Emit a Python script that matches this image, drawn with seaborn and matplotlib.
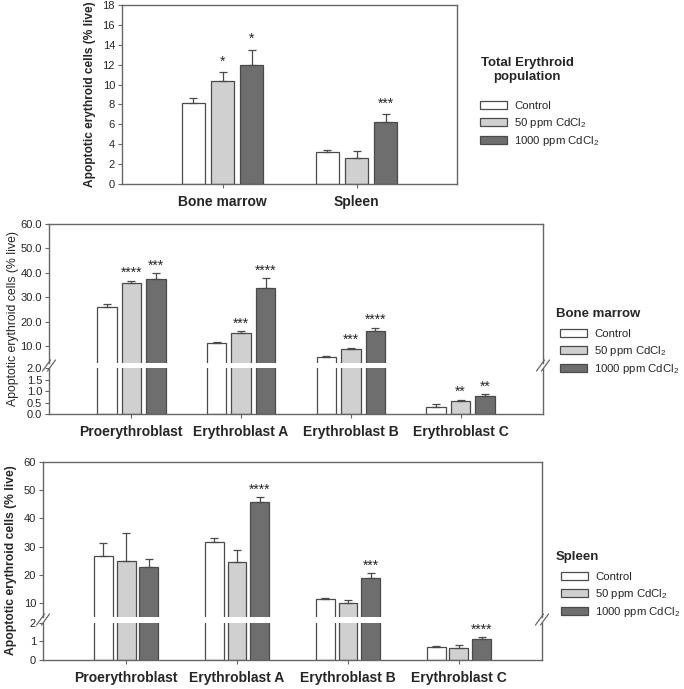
import numpy as np
import pandas as pd
import seaborn as sns
import matplotlib.pyplot as plt
from matplotlib.patches import Patch
from matplotlib.lines import Line2D

sns.set_style("ticks")
plt.rcParams["font.family"] = ["Liberation Sans", "DejaVu Sans"]
plt.rcParams["mathtext.fontset"] = "custom"
plt.rcParams["mathtext.rm"] = "Liberation Sans"
plt.rcParams["mathtext.it"] = "Liberation Sans:italic"
plt.rcParams["mathtext.bf"] = "Liberation Sans:bold"

# treatments / colours
treatments = ["Control", "50 ppm CdCl$_2$", "1000 ppm CdCl$_2$"]
colors = ["#ffffff", "#d0d0d0", "#6e6e6e"]
edge = "#4a4a4a"
spine_col = "#666666"

# total erythroid population (rows = treatment)
tissues = ["Bone marrow", "Spleen"]
total_mean = [[8.1, 3.25], [10.4, 2.65], [12.0, 6.2]]
total_err = [[0.5, 0.2], [0.85, 0.65], [1.5, 0.8]]
total_sig = [["", ""], ["*", ""], ["*", "***"]]

# erythroid stages
stages = ["Proerythroblast", "Erythroblast A", "Erythroblast B", "Erythroblast C"]

bm_mean = [[26.1, 11.1, 5.4, 0.29], [35.7, 15.2, 8.6, 0.58], [37.3, 33.6, 16.1, 0.80]]
bm_err = [[1.0, 0.7, 0.6, 0.14], [1.1, 0.8, 0.6, 0.03], [2.5, 4.1, 1.3, 0.07]]
bm_sig = [["", "", "", ""], ["****", "***", "***", "**"], ["***", "****", "****", "**"]]

sp_mean = [[26.6, 31.6, 11.3, 0.70], [24.9, 24.5, 10.1, 0.63], [22.9, 45.8, 18.8, 1.14]]
sp_err = [[4.8, 1.5, 0.5, 0.05], [9.9, 4.1, 1.1, 0.16], [2.6, 1.7, 1.8, 0.08]]
sp_sig = [["", "", "", ""], ["", "", "", ""], ["", "****", "***", "****"]]

W, H = 684, 689
fig = plt.figure(figsize=(W / 100, H / 100), dpi=100)


def px_box(left, top, right, bottom):
    return [left / W, 1 - bottom / H, (right - left) / W, (bottom - top) / H]


def make_df(cats, means):
    rows = []
    for t, vals in zip(treatments, means):
        for c, v in zip(cats, vals):
            rows.append({"cat": c, "treatment": t, "value": v})
    return pd.DataFrame(rows)


def draw_bars(ax, cats, means, errs, width, gap):
    df = make_df(cats, means)
    sns.barplot(data=df, x="cat", y="value", hue="treatment", order=cats,
                hue_order=treatments, palette=colors, saturation=1,
                width=width, gap=gap, errorbar=None, edgecolor=edge,
                linewidth=0.9, legend=False, ax=ax)
    bars = list(ax.containers)[:3]
    for cont, err in zip(bars, errs):
        xs = [b.get_x() + b.get_width() / 2 for b in cont]
        ys = [b.get_height() for b in cont]
        ax.errorbar(xs, ys, yerr=[np.zeros(len(err)), err], fmt="none",
                    ecolor=edge, elinewidth=0.9, capsize=3, capthick=0.9)
    ax.set_xlim(-0.75, len(cats) - 0.25)
    ax.set_xlabel("")
    ax.set_ylabel("")
    return bars


def add_stars(ax_for, bars, means, errs, sigs, offset):
    for cont, m, e, s in zip(bars, means, errs, sigs):
        for b, mv, ev, sv in zip(cont, m, e, s):
            if sv:
                ax = ax_for(mv + ev)
                ax.annotate(sv, (b.get_x() + b.get_width() / 2, mv + ev),
                            xytext=(0, offset), textcoords="offset points",
                            ha="center", va="bottom", fontsize=10,
                            annotation_clip=False)


def style_axis(ax, top=True, bottom=True):
    for side in ["left", "right", "top", "bottom"]:
        ax.spines[side].set_color(spine_col)
        ax.spines[side].set_linewidth(1.0)
    ax.spines["top"].set_visible(top)
    ax.spines["bottom"].set_visible(bottom)
    ax.tick_params(axis="y", length=3, width=0.8, color=spine_col, labelsize=8, pad=2)
    if bottom:
        ax.tick_params(axis="x", length=3, width=0.8, color=spine_col, pad=5)
        for lab in ax.get_xticklabels():
            lab.set_fontweight("bold")
            lab.set_fontsize(10)
    else:
        ax.tick_params(axis="x", bottom=False, labelbottom=False)


def break_mark(cx, cy):
    for dx in (-2.5, 2.5):
        x0, y0 = cx + dx - 4, cy + 5.5
        x1, y1 = cx + dx + 4, cy - 5.5
        fig.add_artist(Line2D([x0 / W, x1 / W], [1 - y0 / H, 1 - y1 / H],
                              color=spine_col, lw=0.9))


def legend(x, top, title, tx, ty, ha):
    handles = [Patch(facecolor=c, edgecolor=edge, linewidth=0.9) for c in colors]
    fig.legend(handles, treatments, loc="upper left",
               bbox_to_anchor=(x / W, 1 - top / H), frameon=False,
               fontsize=8.2, handlelength=2.4, handleheight=0.7,
               handletextpad=0.6, labelspacing=0.4, borderpad=0,
               borderaxespad=0)
    fig.text(tx / W, 1 - ty / H, title, ha=ha, va="center", fontsize=9.5,
             fontweight="bold", multialignment="center")


# ---- panel 1: total erythroid population
ax1 = fig.add_axes(px_box(122, 5, 457, 184))
bars1 = draw_bars(ax1, tissues, total_mean, total_err, 0.65, 0.21)
ax1.set_ylim(0, 18)
ax1.set_yticks(range(0, 19, 2))
style_axis(ax1)
add_stars(lambda v: ax1, bars1, total_mean, total_err, total_sig, 2.5)
ax1.set_ylabel("Apoptotic erythroid cells (% live)", fontsize=8.6,
               fontweight="bold", labelpad=5)
legend(480, 101, "Total Erythroid\npopulation", 527, 70, "center")

# ---- panel 2: bone marrow stages (broken axis)
ax2u = fig.add_axes(px_box(49, 224, 543, 363))
ax2l = fig.add_axes(px_box(49, 368, 543, 414))
bars2 = draw_bars(ax2u, stages, bm_mean, bm_err, 0.67, 0.2)
draw_bars(ax2l, stages, bm_mean, bm_err, 0.67, 0.2)
ax2u.set_ylim(3, 60)
ax2u.set_yticks(range(10, 61, 10))
ax2u.set_yticklabels([f"{v:.1f}" for v in range(10, 61, 10)])
ax2l.set_ylim(0, 2)
ax2l.set_yticks([0, 0.5, 1, 1.5, 2])
ax2l.set_yticklabels([f"{v:.1f}" for v in [0, 0.5, 1, 1.5, 2]])
style_axis(ax2u, top=True, bottom=False)
style_axis(ax2l, top=False, bottom=True)
add_stars(lambda v: ax2u if v > 2 else ax2l, bars2, bm_mean, bm_err, bm_sig, 0.5)
fig.text(13 / W, 1 - 318 / H, "Apoptotic erythroid cells (% live)", rotation=90,
         ha="center", va="center", fontsize=8.8)
break_mark(49, 365.5)
break_mark(543, 365.5)
legend(560, 329, "Bone marrow", 556, 314, "left")

# ---- panel 3: spleen stages (broken axis)
ax3u = fig.add_axes(px_box(43, 462, 542, 617))
ax3l = fig.add_axes(px_box(43, 622.7, 542, 660))
bars3 = draw_bars(ax3u, stages, sp_mean, sp_err, 0.615, 0.17)
draw_bars(ax3l, stages, sp_mean, sp_err, 0.615, 0.17)
ax3u.set_ylim(5, 60)
ax3u.set_yticks(range(10, 61, 10))
ax3l.set_ylim(0, 2)
ax3l.set_yticks([0, 1, 2])
style_axis(ax3u, top=True, bottom=False)
style_axis(ax3l, top=False, bottom=True)
add_stars(lambda v: ax3u if v > 2 else ax3l, bars3, sp_mean, sp_err, sp_sig, 0.5)
fig.text(11 / W, 1 - 560 / H, "Apoptotic erythroid cells (% live)", rotation=90,
         ha="center", va="center", fontsize=8.7, fontweight="bold")
break_mark(43, 619.5)
break_mark(542, 619.5)
legend(561, 572, "Spleen", 556, 557, "left")

fig.savefig("out.png", dpi=100)
